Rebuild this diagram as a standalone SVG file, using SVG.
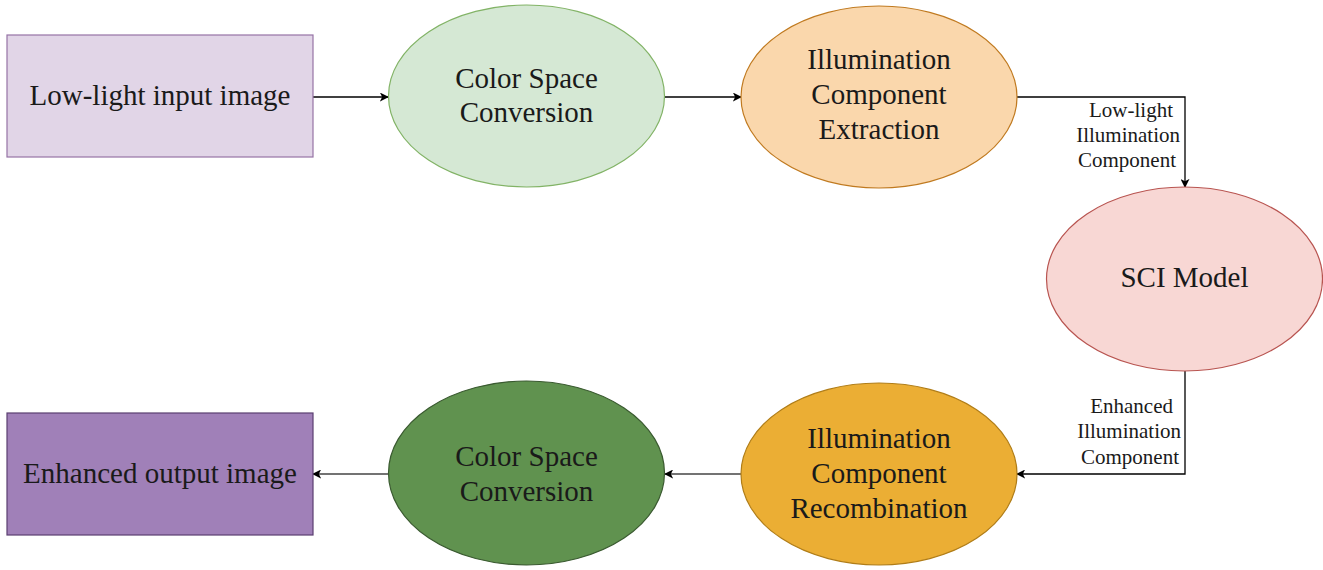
<svg xmlns="http://www.w3.org/2000/svg" width="1323" height="570" viewBox="0 0 1323 570">
<style>
text{fill:#1a1a1a;text-anchor:middle}
.m{font-size:29px}
.l{font-size:21px;text-anchor:end}
.c{fill:none;stroke:#000;stroke-width:1.3}
.c2{fill:none;stroke:#444;stroke-width:1.6}
</style>
<defs>
<marker id="a" viewBox="0 0 10 10" refX="9" refY="5" markerWidth="9" markerHeight="9" markerUnits="userSpaceOnUse" orient="auto"><path d="M0,0 L10,5 L0,10 L2.5,5 Z" fill="#000"/></marker>
</defs>
<rect width="1323" height="570" fill="#fff"/>
<g font-family="Liberation Serif, Times New Roman, DejaVu Serif, serif">
<g id="connectors">
<path class="c" d="M313,97 H388" marker-end="url(#a)"/>
<path class="c" d="M665,97 H741" marker-end="url(#a)"/>
<path class="c" d="M1017,97 H1185 V187" marker-end="url(#a)"/>
<path class="c" d="M1185,371 V474 H1017" marker-end="url(#a)"/>
<path class="c2" d="M741,474 H665" marker-end="url(#a)"/>
<path class="c2" d="M388,474 H313" marker-end="url(#a)"/>
<text class="l" x="1173" y="117">Low-light</text>
<text class="l" x="1180" y="142">Illumination</text>
<text class="l" x="1176" y="167">Component</text>
<text class="l" x="1173" y="413">Enhanced</text>
<text class="l" x="1181" y="438">Illumination</text>
<text class="l" x="1179" y="464">Component</text>
</g>
<g id="input">
<rect x="7" y="35" width="306" height="122" fill="#e1d5e7" stroke="#9673a6" stroke-width="1.2"/>
<text class="m" x="160" y="105">Low-light input image</text>
</g>
<g id="csc1">
<ellipse cx="526.5" cy="96" rx="138" ry="91" fill="#d5e8d4" stroke="#82b366" stroke-width="1.2"/>
<text class="m" x="526.5" y="88">Color Space</text>
<text class="m" x="526.5" y="122">Conversion</text>
</g>
<g id="ice">
<ellipse cx="879" cy="97" rx="138" ry="91" fill="#fad7ac" stroke="#c07a20" stroke-width="1.2"/>
<text class="m" x="879" y="69">Illumination</text>
<text class="m" x="879" y="104">Component</text>
<text class="m" x="879" y="139">Extraction</text>
</g>
<g id="sci">
<ellipse cx="1184.5" cy="279" rx="138" ry="92" fill="#f8d7d4" stroke="#b85450" stroke-width="1.2"/>
<text class="m" x="1184.5" y="287">SCI Model</text>
</g>
<g id="icr">
<ellipse cx="879" cy="474" rx="138" ry="91" fill="#ebae34" stroke="#b07d18" stroke-width="1.2"/>
<text class="m" x="879" y="448">Illumination</text>
<text class="m" x="879" y="483">Component</text>
<text class="m" x="879" y="518">Recombination</text>
</g>
<g id="csc2">
<ellipse cx="526.5" cy="473" rx="138" ry="92" fill="#60924f" stroke="#3a5a30" stroke-width="1.2"/>
<text class="m" x="526.5" y="466">Color Space</text>
<text class="m" x="526.5" y="501">Conversion</text>
</g>
<g id="output">
<rect x="7" y="413" width="306" height="122" fill="#a080b8" stroke="#5a3f70" stroke-width="1.2"/>
<text class="m" x="160" y="483">Enhanced output image</text>
</g>
</g>
</svg>
